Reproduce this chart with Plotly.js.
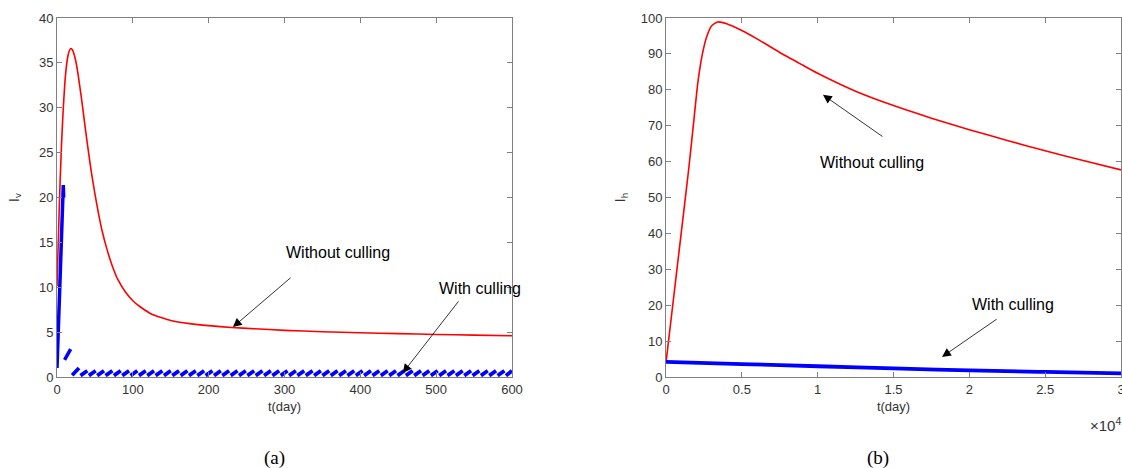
<!DOCTYPE html>
<html>
<head>
<meta charset="utf-8">
<script src="https://cdn.plot.ly/plotly-3.0.1.min.js"></script>
<style>html,body{margin:0;padding:0;background:#fff;}#chart{width:1122px;height:468px;}</style>
</head>
<body>
<div id="chart"></div>
<script>
// ---- Panel (a): I_v vs t(day) ----
const tA_red = [0, 2, 4, 6, 8, 10, 12, 14, 16, 18, 20, 22, 25, 28, 32, 36, 40, 45, 50, 55, 60, 65, 70, 75, 80, 90, 100, 110, 125, 150, 175, 200, 230, 260, 300, 350, 400, 450, 500, 550, 600];
const ivNoCull = [10.1, 16, 21.5, 26, 29.5, 32.3, 34.3, 35.6, 36.3, 36.6, 36.5, 36.1, 35.1, 33.6, 31.2, 28.6, 26.0, 23.0, 20.4, 18.1, 16.1, 14.5, 13.1, 11.9, 10.9, 9.5, 8.5, 7.8, 7.0, 6.3, 5.95, 5.72, 5.52, 5.38, 5.2, 5.05, 4.93, 4.83, 4.74, 4.67, 4.6];

// culling: first pulses
const tA_blueEarly = [0, 8.3, 8.8, null, 10, 18];
const ivCullEarly  = [1.0, 21.4, 20.0, null, 1.9, 3.1];
// culling: periodic pulses (start / end day of each pulse)
const pulseStart = [20, 31, 42, 53, 64, 75, 86, 97, 108, 119, 130, 141, 152, 163, 174, 185, 196, 207, 218, 229, 240, 251, 262, 273, 284, 295, 306, 317, 328, 339, 350, 361, 372, 383, 394, 405, 416, 427, 438, 449, 460, 471, 482, 493, 504, 515, 526, 537, 548, 559, 570, 581, 592];
const pulseEnd   = [29, 40, 51, 62, 73, 84, 95, 106, 117, 128, 139, 150, 161, 172, 183, 194, 205, 216, 227, 238, 249, 260, 271, 282, 293, 304, 315, 326, 337, 348, 359, 370, 381, 392, 403, 414, 425, 436, 447, 458, 469, 480, 491, 502, 513, 524, 535, 546, 557, 568, 579, 590, 600];
const pulseLow  = [0.2, 0.15, 0.15, 0.15, 0.15, 0.15, 0.15, 0.15, 0.15, 0.15, 0.15, 0.15, 0.15, 0.15, 0.15, 0.15, 0.15, 0.15, 0.15, 0.15, 0.15, 0.15, 0.15, 0.15, 0.15, 0.15, 0.15, 0.15, 0.15, 0.15, 0.15, 0.15, 0.15, 0.15, 0.15, 0.15, 0.15, 0.15, 0.15, 0.15, 0.15, 0.15, 0.15, 0.15, 0.15, 0.15, 0.15, 0.15, 0.15, 0.15, 0.15, 0.15, 0.15];
const pulseHigh = [1.0, 0.7, 0.7, 0.7, 0.7, 0.7, 0.7, 0.7, 0.7, 0.7, 0.7, 0.7, 0.7, 0.7, 0.7, 0.7, 0.7, 0.7, 0.7, 0.7, 0.7, 0.7, 0.7, 0.7, 0.7, 0.7, 0.7, 0.7, 0.7, 0.7, 0.7, 0.7, 0.7, 0.7, 0.7, 0.7, 0.7, 0.7, 0.7, 0.7, 0.7, 0.7, 0.7, 0.7, 0.7, 0.7, 0.7, 0.7, 0.7, 0.7, 0.7, 0.7, 0.7];

// ---- Panel (b): I_h vs t(day) (x in units of 10^4) ----
const tB = [0, 0.05, 0.1, 0.15, 0.18, 0.21, 0.24, 0.27, 0.3, 0.34, 0.4, 0.5, 0.6, 0.75, 0.9, 1.0, 1.25, 1.5, 1.75, 2.0, 2.25, 2.5, 2.75, 3.0];
const ihNoCull = [4, 22, 40, 58, 70, 82, 90, 95, 97.8, 98.9, 98.4, 96.5, 94.2, 90.4, 86.9, 84.6, 79.6, 75.6, 72.1, 68.9, 65.9, 63.0, 60.3, 57.7];
const tB_blue = [0, 0.5, 1.0, 1.5, 2.0, 2.5, 3.0];
const ihCull = [4.2, 3.6, 3.0, 2.4, 1.85, 1.4, 1.0];

const xTicksA = [0, 100, 200, 300, 400, 500, 600];
const yTicksA = [0, 5, 10, 15, 20, 25, 30, 35, 40];
const xTicksB = [0, 0.5, 1, 1.5, 2, 2.5, 3];
const xTickTextB = ['0', '0.5', '1', '1.5', '2', '2.5', '3'];
const yTicksB = [0, 10, 20, 30, 40, 50, 60, 70, 80, 90, 100];

// build periodic pulse series with gaps
const tPulse = [], ivPulse = [];
for (let i = 0; i < pulseStart.length; i++) {
  tPulse.push(pulseStart[i], pulseEnd[i], null);
  ivPulse.push(pulseLow[i], pulseHigh[i], null);
}

const RED = '#ff0000', BLUE = '#0000ff';
const traces = [
  {x: tA_red, y: ivNoCull, mode: 'lines', line: {color: RED, width: 1.6, shape: 'spline', smoothing: 0.5}, xaxis: 'x', yaxis: 'y'},
  {x: tA_blueEarly, y: ivCullEarly, mode: 'lines', line: {color: BLUE, width: 3.5}, xaxis: 'x', yaxis: 'y', connectgaps: false},
  {x: tPulse, y: ivPulse, mode: 'lines', line: {color: BLUE, width: 3.8}, xaxis: 'x', yaxis: 'y', connectgaps: false},
  {x: tB, y: ihNoCull, mode: 'lines', line: {color: RED, width: 1.6, shape: 'spline', smoothing: 0.5}, xaxis: 'x2', yaxis: 'y2'},
  {x: tB_blue, y: ihCull, mode: 'lines', line: {color: BLUE, width: 3.8, shape: 'spline'}, xaxis: 'x2', yaxis: 'y2'}
];

const FONT = "'Liberation Sans', Arial, sans-serif";
const SERIF = "'Liberation Serif', 'Times New Roman', serif";
const axisCommon = {
  showgrid: false, zeroline: false, showline: true, linecolor: '#808080', linewidth: 1,
  mirror: 'ticks', ticks: 'inside', ticklen: 5, tickcolor: '#808080',
  tickfont: {family: FONT, size: 13, color: '#333333'}, automargin: false
};

const W = 1122;
const arrowStyle = {showarrow: true, arrowhead: 2, arrowsize: 2.2, arrowwidth: 0.8, arrowcolor: '#000'};
const layout = {
  width: 1122, height: 468,
  margin: {l: 0, r: 0, t: 18, b: 91},
  paper_bgcolor: '#ffffff', plot_bgcolor: '#ffffff',
  showlegend: false,
  font: {family: FONT, color: '#333333'},
  xaxis: Object.assign({}, axisCommon, {domain: [57 / W, 512 / W], range: [0, 600], tickvals: xTicksA, anchor: 'y',
    title: {text: 't(day)', font: {family: FONT, size: 13, color: '#333333'}, standoff: 6}}),
  yaxis: Object.assign({}, axisCommon, {domain: [0, 1], range: [0, 40], tickvals: yTicksA, anchor: 'x',
    title: {text: 'I<sub>v</sub>', font: {family: FONT, size: 14, color: '#333333'}, standoff: 16}}),
  xaxis2: Object.assign({}, axisCommon, {domain: [666 / W, 1121 / W], range: [0, 3], tickvals: xTicksB, ticktext: xTickTextB, anchor: 'y2',
    ticklabeloverflow: 'allow',
    title: {text: 't(day)', font: {family: FONT, size: 13, color: '#333333'}, standoff: 6}}),
  yaxis2: Object.assign({}, axisCommon, {domain: [0, 1], range: [0, 100], tickvals: yTicksB, anchor: 'x2',
    title: {text: 'I<sub>h</sub>', font: {family: FONT, size: 14, color: '#333333'}, standoff: 11}}),
  annotations: [
    // panel a
    {xref: 'x', yref: 'y', x: 370.6, y: 13.9, text: 'Without culling', showarrow: false, xanchor: 'center', font: {family: FONT, size: 16, color: '#000'}},
    Object.assign({xref: 'x', yref: 'y', x: 232, y: 5.56, axref: 'x', ayref: 'y', ax: 310, ay: 11.2, text: ''}, arrowStyle),
    {xref: 'x', yref: 'y', x: 558, y: 9.9, text: 'With culling', showarrow: false, xanchor: 'center', font: {family: FONT, size: 16, color: '#000'}},
    Object.assign({xref: 'x', yref: 'y', x: 456, y: 0.45, axref: 'x', ayref: 'y', ax: 531, ay: 8.6, text: ''}, arrowStyle),
    // panel b
    {xref: 'x2', yref: 'y2', x: 1.358, y: 59.7, text: 'Without culling', showarrow: false, xanchor: 'center', font: {family: FONT, size: 16, color: '#000'}},
    Object.assign({xref: 'x2', yref: 'y2', x: 1.035, y: 78.6, axref: 'x2', ayref: 'y2', ax: 1.437, ay: 66.7, text: ''}, arrowStyle),
    {xref: 'x2', yref: 'y2', x: 2.29, y: 20.3, text: 'With culling', showarrow: false, xanchor: 'center', font: {family: FONT, size: 16, color: '#000'}},
    Object.assign({xref: 'x2', yref: 'y2', x: 1.82, y: 5.6, axref: 'x2', ayref: 'y2', ax: 2.19, ay: 16.4, text: ''}, arrowStyle),
    // exponent label
    {xref: 'paper', yref: 'paper', x: 1105 / W, y: (377 - 424) / 359, xanchor: 'center', yanchor: 'middle', text: '×10<sup>4</sup>', showarrow: false, font: {family: FONT, size: 15, color: '#333333'}},
    // panel labels
    {xref: 'paper', yref: 'paper', x: 274 / W, y: (377 - 458) / 359, xanchor: 'center', yanchor: 'middle', text: '(a)', showarrow: false, font: {family: SERIF, size: 19, color: '#000'}},
    {xref: 'paper', yref: 'paper', x: 878 / W, y: (377 - 458) / 359, xanchor: 'center', yanchor: 'middle', text: '(b)', showarrow: false, font: {family: SERIF, size: 19, color: '#000'}}
  ]
};

Plotly.newPlot('chart', traces, layout, {staticPlot: true, displayModeBar: false});
</script>
</body>
</html>
